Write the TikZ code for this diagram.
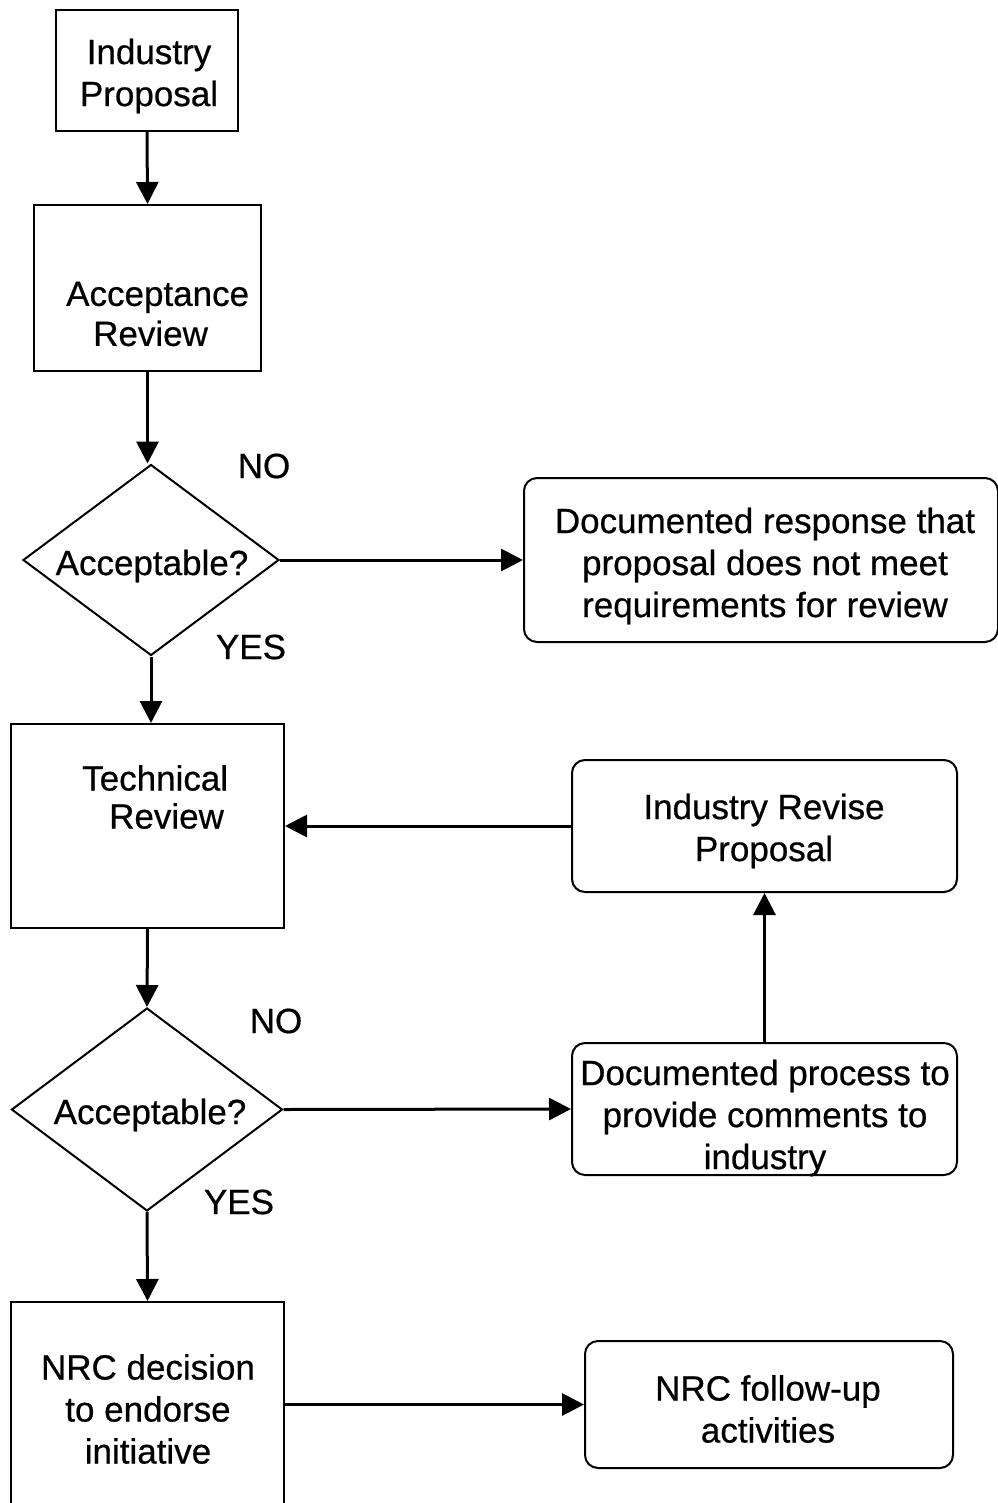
\documentclass[tikz,border=0pt]{standalone}
\usepackage{fontspec}
\setmainfont{Liberation Sans}[FakeBold=0.6]
\usetikzlibrary{arrows.meta,shapes.geometric}

\tikzset{
  boxshape/.style={draw, line width=2pt, rectangle, inner sep=0pt},
  roundshape/.style={draw, line width=2pt, rectangle, rounded corners=13pt, inner sep=0pt},
  decision/.style={draw, line width=2pt, diamond, inner sep=0pt},
  txt/.style={inner sep=0pt, align=center, font=\fontsize{35}{42}\selectfont},
  flow/.style={line width=3pt, -{Triangle[width=22pt,length=22pt]}},
}

\begin{document}
\begin{tikzpicture}[x=1pt, y=-1pt]
  \useasboundingbox (0,0) rectangle (997,1503);

  % shapes
  \node[boxshape, minimum width=182pt, minimum height=121pt] (ip) at (147,70.5) {};
  \node[boxshape, minimum width=227pt, minimum height=166pt] (ar) at (147.5,288) {};
  \node[decision, minimum width=256pt, minimum height=191pt] (d1) at (151,560) {};
  \node[roundshape, minimum width=474pt, minimum height=164pt] (resp) at (761,560) {};
  \node[boxshape, minimum width=273pt, minimum height=204pt] (tr) at (147.5,826) {};
  \node[roundshape, minimum width=385pt, minimum height=132pt] (rev) at (764.5,826) {};
  \node[decision, minimum width=271pt, minimum height=203pt] (d2) at (147,1109.5) {};
  \node[roundshape, minimum width=385pt, minimum height=132pt] (proc) at (764.5,1109) {};
  \node[boxshape, minimum width=273pt, minimum height=208pt] (nrc) at (147.5,1406) {};
  \node[roundshape, minimum width=368pt, minimum height=127pt] (fu) at (769,1404.5) {};

  % texts
  \node[txt] (ipt) at (149,76) {Industry\\Proposal};
  \node[txt, align=left, anchor=west, font=\fontsize{35}{40}\selectfont] (art) at (66,314) {Acceptance\\\hspace*{27pt}Review};
  \node[txt] (d1t) at (152,566) {Acceptable?};
  \node[txt] (respt) at (765,566) {Documented response that\\proposal does not meet\\requirements for review};
  \node[txt, align=left, anchor=west, font=\fontsize{35}{38}\selectfont] (trt) at (82,797) {Technical\\\hspace*{27pt}Review};
  \node[txt] (revt) at (764,831) {Industry Revise\\Proposal};
  \node[txt] (d2t) at (150,1115) {Acceptable?};
  \node[txt] (proct) at (765,1118) {Documented process to\\provide comments to\\industry};
  \node[txt] (nrct) at (148,1409) {NRC decision\\to endorse\\initiative};
  \node[txt] (fut) at (768,1409) {NRC follow-up\\activities};

  % branch labels
  \node[txt] (no1) at (264,466) {NO};
  \node[txt] (yes1) at (251,647) {YES};
  \node[txt] (no2) at (276,1021) {NO};
  \node[txt] (yes2) at (239,1202) {YES};

  % connectors
  \draw[flow] (ip.south) -- (ar.north);
  \draw[flow] (ar.south) -- (ar.south |- d1.north);
  \draw[flow] (d1.east) -- (resp.west);
  \draw[flow] (d1.south) -- (d1.south |- tr.north);
  \draw[flow] (rev.west) -- (rev.west -| tr.east);
  \draw[flow] (tr.south) -- (d2.north);
  \draw[flow] (d2.east) -- (proc.west);
  \draw[flow] (proc.north) -- (rev.south);
  \draw[flow] (d2.south) -- (nrc.north);
  \draw[flow] (fu.west -| nrc.east) -- (fu.west);
\end{tikzpicture}
\end{document}
